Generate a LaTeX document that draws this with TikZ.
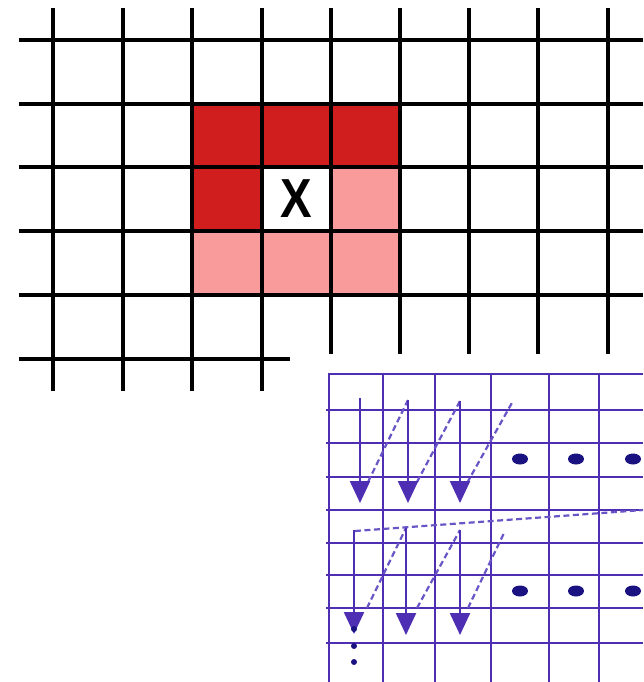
\documentclass[tikz,border=0pt]{standalone}
\usepackage{fontspec}
\setmainfont{Liberation Sans}
\usetikzlibrary{arrows.meta}
\definecolor{darkred}{RGB}{208,30,30}
\definecolor{lightred}{RGB}{250,155,155}
\definecolor{gridblue}{RGB}{78,46,178}
\definecolor{dashblue}{RGB}{105,85,198}
\definecolor{dotblue}{RGB}{26,18,128}
\tikzset{
  blackgrid/.style={line width=4.4pt, black},
  bluegrid/.style={line width=2.4pt, gridblue},
  scanarrow/.style={line width=2.4pt, gridblue, -{Triangle[width=20pt,length=22pt]}},
  scandash/.style={line width=2.2pt, dashblue, dash pattern=on 6pt off 3.5pt},
  pixeldot/.style={fill=dotblue, draw=none},
}
\begin{document}
\begin{tikzpicture}[x=1pt,y=-1pt]
\useasboundingbox (0,0) rectangle (643,682);
% red cells
\fill[darkred] (192,104) rectangle (400,167);
\fill[darkred] (192,167) rectangle (262,231);
\fill[lightred] (331,167) rectangle (400,231);
\fill[lightred] (192,231) rectangle (400,295);
% black grid
\foreach \x in {331,400,469,538,608} \draw[blackgrid] (\x,8) -- (\x,354);
\foreach \x in {53,123,192,262} \draw[blackgrid] (\x,8) -- (\x,391);
\foreach \y in {40,104,167,231,295} \draw[blackgrid] (19,\y) -- (643,\y);
\draw[blackgrid] (19,359) -- (290,359);
\node[font=\bfseries\fontsize{55}{55}\selectfont, xscale=0.86, inner sep=0] (x) at (296.5,199) {X};
% blue grid
\foreach \x in {329,383,435,491,549,599} \draw[bluegrid] (\x,374) -- (\x,682);
\draw[bluegrid] (328,374) -- (643,374);
\foreach \y in {410,443,477,510,543,575,608,643} \draw[bluegrid] (326,\y) -- (643,\y);
% top scan arrows
\coordinate (a1s) at (360,398); \coordinate (a1e) at (360,503);
\coordinate (a2s) at (408,400); \coordinate (a2e) at (408,503);
\coordinate (a3s) at (460,401); \coordinate (a3e) at (460,503);
\coordinate (a4s) at (513,401);
\coordinate (d1) at (368,482); \coordinate (d2) at (417,482); \coordinate (d3) at (467,483);
\draw[scandash] (d1) -- (a2s);
\draw[scandash] (d2) -- (a3s);
\draw[scandash] (d3) -- (a4s);
\draw[scanarrow] (a1s) -- (a1e);
\draw[scanarrow] (a2s) -- (a2e);
\draw[scanarrow] (a3s) -- (a3e);
% return dashed line
\coordinate (rs) at (355,531); \coordinate (re) at (643,510);
\draw[scandash] (rs) -- (re);
% bottom scan arrows
\coordinate (b1s) at (354,530); \coordinate (b1e) at (354,634);
\coordinate (b2s) at (406,528); \coordinate (b2e) at (406,635);
\coordinate (b3s) at (460,530); \coordinate (b3e) at (460,635);
\coordinate (b4s) at (505,531);
\coordinate (e1) at (367,608); \coordinate (e2) at (417,608); \coordinate (e3) at (468,608);
\draw[scandash] (e1) -- (b2s);
\draw[scandash] (e2) -- (b3s);
\draw[scandash] (e3) -- (b4s);
\draw[scanarrow] (b1s) -- (b1e);
\draw[scanarrow] (b2s) -- (b2e);
\draw[scanarrow] (b3s) -- (b3e);
% vertical ellipsis
\foreach \y in {629,646,662} \fill[pixeldot] (354,\y) circle (3);
% pixel dots
\foreach \x in {520,576,633} {
  \fill[pixeldot] (\x,459) ellipse (8 and 5.5);
  \fill[pixeldot] (\x,591) ellipse (8 and 5.5);
}
\end{tikzpicture}
\end{document}
